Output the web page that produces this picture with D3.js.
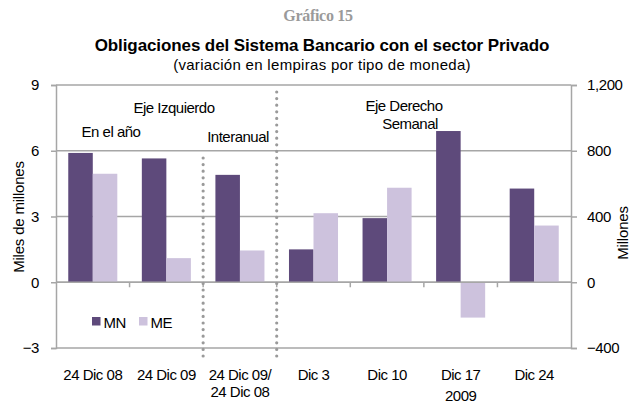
<!DOCTYPE html>
<html>
<head>
<meta charset="utf-8">
<script src="https://cdn.jsdelivr.net/npm/d3@7"></script>
<style>
    body { margin: 0; background: #fff; }
    svg { display: block; font-family: "Liberation Sans", Arial, sans-serif; }
</style>
</head>
<body>
<div id="chart"></div>
<script>
// data
const categories = ["24 Dic 08", "24 Dic 09", "24 Dic 09/|24 Dic 08", "Dic 3", "Dic 10", "Dic 17", "Dic 24"];
const axisSide = ["left", "left", "left", "right", "right", "right", "right"];
const mnValues = [5.9, 5.65, 4.9, 200, 390, 920, 570];
const meValues = [4.95, 1.1, 1.45, 420, 575, -215, 345];
const series = ["MN", "ME"];
const leftTicks = [-3, 0, 3, 6, 9];
const rightTicks = [-400, 0, 400, 800, 1200];

const width = 635, height = 404;
let margin = {top: 85, right: 64, bottom: 56, left: 56};
let plotW = width - margin.left - margin.right;
let plotH = height - margin.top - margin.bottom;

let colors = {MN: "#5e4a7b", ME: "#cdc2dd"};
let fs = "15px";

let svg = d3.select("#chart").append("svg")
    .attr("width", width)
    .attr("height", height);

// titles
svg.append("text")
    .attr("x", 318).attr("y", 21)
    .attr("text-anchor", "middle")
    .style("font-family", "'Liberation Serif', serif")
    .style("font-weight", "bold")
    .style("font-size", "16px")
    .style("letter-spacing", "-0.3px")
    .style("fill", "#9a9a9a")
    .text("Gráfico 15");

svg.append("text")
    .attr("x", 322).attr("y", 51)
    .attr("text-anchor", "middle")
    .style("font-weight", "bold")
    .style("font-size", "17px")
    .style("letter-spacing", "-0.1px")
    .text("Obligaciones del Sistema Bancario con el sector Privado");

svg.append("text")
    .attr("x", 322).attr("y", 70)
    .attr("text-anchor", "middle")
    .style("font-size", "15px")
    .style("letter-spacing", "0.3px")
    .text("(variación en lempiras por tipo de moneda)");

let g = svg.append("g")
    .attr("transform", "translate(" + margin.left + "," + margin.top + ")");

// scales
let x0 = d3.scaleBand().domain(categories).range([0, plotW]).padding(0);
let x1 = d3.scaleBand().domain(series).range([0, x0.bandwidth()]).paddingInner(0).paddingOuter(0.5);
let yLeft = d3.scaleLinear().domain([-3, 9]).range([plotH, 0]);
let yRight = d3.scaleLinear().domain([-400, 1200]).range([plotH, 0]);

// gridlines
g.selectAll(".grid")
    .data(leftTicks)
    .enter().append("line")
    .attr("class", "grid")
    .attr("x1", 0).attr("x2", plotW)
    .attr("y1", d => yLeft(d)).attr("y2", d => yLeft(d))
    .attr("stroke", "#a6a6a6")
    .attr("stroke-width", 1.5);

// axes
let leftAxis = d3.axisLeft(yLeft).tickValues(leftTicks).tickSize(5).tickPadding(12);
let rightAxis = d3.axisRight(yRight).tickValues(rightTicks).tickSize(6).tickPadding(10)
    .tickFormat(d3.format(","));

let la = g.append("g").call(leftAxis);
let ra = g.append("g").attr("transform", "translate(" + plotW + ",0)").call(rightAxis);
[la, ra].forEach(a => {
    a.select(".domain").attr("stroke", "#a6a6a6").attr("stroke-width", 1.5);
    a.selectAll(".tick line").attr("stroke", "#a6a6a6").attr("stroke-width", 1.5);
    a.selectAll(".tick text")
        .style("font-size", fs)
        .style("font-family", "'Liberation Sans', Arial, sans-serif")
        .style("fill", "#000")
        .style("letter-spacing", "-0.4px");
});

// bars
let rows = categories.map((c, i) => ({cat: c, side: axisSide[i], MN: mnValues[i], ME: meValues[i]}));

let groups = g.selectAll(".grp")
    .data(rows)
    .enter().append("g")
    .attr("class", "grp")
    .attr("transform", d => "translate(" + x0(d.cat) + ",0)");

groups.selectAll("rect")
    .data(d => series.map(s => ({key: s, value: d[s], y: d.side == "left" ? yLeft : yRight})))
    .enter().append("rect")
    .attr("x", d => x1(d.key))
    .attr("width", x1.bandwidth())
    .attr("y", d => Math.min(d.y(d.value), d.y(0)))
    .attr("height", d => Math.abs(d.y(d.value) - d.y(0)))
    .attr("fill", d => colors[d.key]);

// zero line and category ticks
g.append("line")
    .attr("x1", 0).attr("x2", plotW)
    .attr("y1", yLeft(0)).attr("y2", yLeft(0))
    .attr("stroke", "#a6a6a6").attr("stroke-width", 1.5);

g.selectAll(".ctick")
    .data(categories.slice(1))
    .enter().append("line")
    .attr("x1", d => x0(d)).attr("x2", d => x0(d))
    .attr("y1", yLeft(0)).attr("y2", yLeft(0) + 5)
    .attr("stroke", "#a6a6a6").attr("stroke-width", 1.5);

// category labels
let labels = g.selectAll(".clabel")
    .data(categories)
    .enter().append("text")
    .attr("class", "clabel")
    .attr("text-anchor", "middle")
    .style("font-size", fs)
    .style("letter-spacing", "-0.5px")
    .attr("transform", d => "translate(" + (x0(d) + x0.bandwidth() / 2) + "," + (plotH + 32) + ")");

labels.selectAll("tspan")
    .data(d => d.split("|"))
    .enter().append("tspan")
    .attr("x", 0)
    .attr("dy", (d, i) => i == 0 ? 0 : 17)
    .text(d => d);

g.append("text")
    .attr("x", x0("Dic 17") + x0.bandwidth() / 2)
    .attr("y", plotH + 53)
    .attr("text-anchor", "middle")
    .style("font-size", fs)
    .style("letter-spacing", "-0.5px")
    .text("2009");

// dotted separators
g.append("line")
    .attr("x1", x0(categories[2])).attr("x2", x0(categories[2]))
    .attr("y1", 73).attr("y2", 275)
    .attr("stroke", "#9a9a9a").attr("stroke-width", 3.2)
    .attr("stroke-linecap", "round").attr("stroke-dasharray", "0 6.6");

g.append("line")
    .attr("x1", x0(categories[3])).attr("x2", x0(categories[3]))
    .attr("y1", 7).attr("y2", 275)
    .attr("stroke", "#9a9a9a").attr("stroke-width", 3.2)
    .attr("stroke-linecap", "round").attr("stroke-dasharray", "0 6.6");

// annotations
let notes = [
    {t: "Eje Izquierdo", x: 174, y: 113},
    {t: "En el año", x: 111, y: 137},
    {t: "Interanual", x: 238, y: 142},
    {t: "Eje Derecho", x: 404, y: 111},
    {t: "Semanal", x: 410, y: 129}
];
svg.selectAll(".note")
    .data(notes)
    .enter().append("text")
    .attr("x", d => d.x).attr("y", d => d.y)
    .attr("text-anchor", "middle")
    .style("font-size", fs)
    .style("letter-spacing", "-0.5px")
    .text(d => d.t);

// legend
let legend = svg.append("g").attr("transform", "translate(92,317)");
series.forEach((s, i) => {
    legend.append("rect")
        .attr("x", i * 47).attr("y", 0)
        .attr("width", 8.5).attr("height", 8.5)
        .attr("fill", colors[s]);
    legend.append("text")
        .attr("x", i * 47 + 11.5).attr("y", 10.5)
        .style("font-size", fs)
        .style("letter-spacing", "-0.4px")
        .text(s);
});

// axis titles
svg.append("text")
    .attr("transform", "translate(24,217) rotate(-90)")
    .attr("text-anchor", "middle")
    .style("font-size", fs)
    .style("letter-spacing", "-0.2px")
    .text("Miles de millones");

svg.append("text")
    .attr("transform", "translate(628,233) rotate(-90)")
    .attr("text-anchor", "middle")
    .style("font-size", fs)
    .style("letter-spacing", "-0.2px")
    .text("Millones");
</script>
</body>
</html>
